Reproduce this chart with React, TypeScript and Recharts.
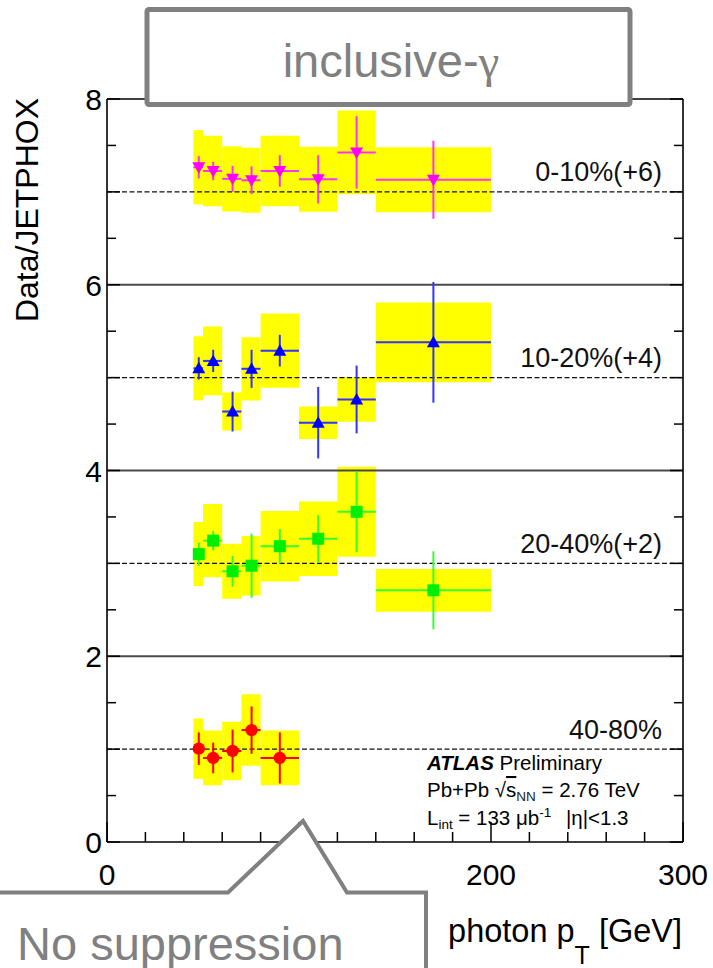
import React from 'react'
import {
  ScatterChart,
  Scatter,
  XAxis,
  YAxis,
  ErrorBar,
  ReferenceArea,
  ReferenceLine,
} from 'recharts'

const FONT = '"Liberation Sans", Arial, Helvetica, sans-serif'
const GREY = '#808080'

// axis ticks
const xTicks = [0, 20, 40, 60, 80, 100, 120, 140, 160, 180, 200, 220, 240, 260, 280, 300]
const yTicks = [0, 0.5, 1, 1.5, 2, 2.5, 3, 3.5, 4, 4.5, 5, 5.5, 6, 6.5, 7, 7.5, 8]
const xLabels = [0, 100, 200, 300]
const yLabels = [0, 2, 4, 6, 8]
const separators = [2, 4, 6]

// photon pT bins [GeV] and mean pT in each bin
const binLow = [45, 50, 60, 70, 80, 100, 120, 140]
const binHigh = [50, 60, 70, 80, 100, 120, 140, 200]
const meanPt = [47.8, 55.3, 65.4, 75.3, 90, 110, 130, 170]

// Data/JETPHOX per centrality class (before the vertical shift), stat and sys errors
const ratio010 = [1.265, 1.225, 1.14, 1.125, 1.225, 1.135, 1.425, 1.13]
const stat010 = [0.12, 0.1, 0.14, 0.15, 0.17, 0.26, 0.39, 0.42]
const sys010 = [0.4, 0.38, 0.35, 0.35, 0.38, 0.35, 0.45, 0.35]

const ratio1020 = [1.1, 1.18, 0.635, 1.095, 1.29, 0.515, 0.765, 1.38]
const stat1020 = [0.12, 0.12, 0.215, 0.205, 0.17, 0.385, 0.365, 0.65]
const sys1020 = [0.345, 0.37, 0.205, 0.34, 0.4, 0.175, 0.24, 0.43]

const ratio2040 = [1.1, 1.245, 0.915, 0.975, 1.185, 1.265, 1.555, 0.71]
const stat2040 = [0.125, 0.105, 0.165, 0.345, 0.185, 0.255, 0.435, 0.42]
const sys2040 = [0.345, 0.395, 0.295, 0.32, 0.38, 0.4, 0.485, 0.23]

const ratio4080 = [1.005, 0.905, 0.98, 1.205, 0.905]
const stat4080 = [0.175, 0.165, 0.23, 0.255, 0.275]
const sys4080 = [0.325, 0.295, 0.315, 0.385, 0.295]

type MarkerKind = 'down' | 'up' | 'square' | 'circle'

const classes = [
  { name: '0-10%(+6)', offset: 6, ratio: ratio010, stat: stat010, sys: sys010, color: '#ff00ff', bar: '#ff33ff', marker: 'down' as MarkerKind },
  { name: '10-20%(+4)', offset: 4, ratio: ratio1020, stat: stat1020, sys: sys1020, color: '#0000ff', bar: '#3333ff', marker: 'up' as MarkerKind },
  { name: '20-40%(+2)', offset: 2, ratio: ratio2040, stat: stat2040, sys: sys2040, color: '#00ee00', bar: '#33ff33', marker: 'square' as MarkerKind },
  { name: '40-80%', offset: 0, ratio: ratio4080, stat: stat4080, sys: sys4080, color: '#ff0000', bar: '#ff0000', marker: 'circle' as MarkerKind },
]

function Marker({ cx, cy, kind, color }: { cx: number; cy: number; kind: MarkerKind; color: string }) {
  if (kind === 'down')
    return <polygon points={`${cx - 6.5},${cy - 5} ${cx + 6.5},${cy - 5} ${cx},${cy + 6.5}`} fill={color} />
  if (kind === 'up')
    return <polygon points={`${cx - 6.5},${cy + 5} ${cx + 6.5},${cy + 5} ${cx},${cy - 6.5}`} fill={color} />
  if (kind === 'square') return <rect x={cx - 6} y={cy - 6} width={12} height={12} fill={color} />
  return <circle cx={cx} cy={cy} r={6.2} fill={color} />
}

// ROOT-style inward ticks: long on major divisions, short on minor ones
const BottomTick = ({ x, y, payload }: any) => {
  const v = payload.value
  const major = xLabels.includes(v)
  return (
    <g>
      <line x1={x} x2={x} y1={y} y2={y - (major ? 20 : 10)} stroke="#000" strokeWidth={1.5} />
      {major && (
        <text x={x} y={y + 43} textAnchor="middle" fontSize={30} fontFamily={FONT} fill="#000">
          {v}
        </text>
      )}
    </g>
  )
}

const TopTick = ({ x, y, payload }: any) => {
  const major = xLabels.includes(payload.value)
  return <line x1={x} x2={x} y1={y} y2={y + (major ? 20 : 11)} stroke="#000" strokeWidth={1.5} />
}

const LeftTick = ({ x, y, payload }: any) => {
  const v = payload.value
  const len = Number.isInteger(v) ? 13 : 9
  return (
    <g>
      <line x1={x} x2={x + len} y1={y} y2={y} stroke="#000" strokeWidth={1.5} />
      {yLabels.includes(v) && (
        <text x={x - 5} y={y + 11} textAnchor="end" fontSize={30} fontFamily={FONT} fill="#000">
          {v}
        </text>
      )}
    </g>
  )
}

const RightTick = ({ x, y, payload }: any) => {
  const len = Number.isInteger(payload.value) ? 13 : 9
  return <line x1={x} x2={x - len} y1={y} y2={y} stroke="#000" strokeWidth={1.5} />
}

const ClassLabel = ({ viewBox, text }: any) => (
  <text
    x={viewBox.x + viewBox.width - 21}
    y={viewBox.y - 10.5}
    textAnchor="end"
    fontSize={27}
    fontFamily={FONT}
    fill="#111"
  >
    {text}
  </text>
)

export default function App() {
  const series = classes.map((c) => ({
    ...c,
    points: c.ratio.map((r, i) => ({
      x: meanPt[i],
      y: r + c.offset,
      ex: [meanPt[i] - binLow[i], binHigh[i] - meanPt[i]],
      ey: c.stat[i],
    })),
  }))

  return (
    <div style={{ position: 'absolute', left: 0, top: 0, width: 713, height: 968, background: '#fff', fontFamily: FONT }}>
      <ScatterChart width={713} height={968} margin={{ top: 69, right: 0, bottom: 96, left: 77 }}>
        <XAxis
          dataKey="x"
          type="number"
          domain={[0, 300]}
          allowDataOverflow
          ticks={xTicks}
          interval={0}
          height={30}
          tickSize={0}
          tickMargin={0}
          tickLine={false}
          axisLine={{ stroke: '#000', strokeWidth: 1.6 }}
          tick={<BottomTick />}
        />
        <XAxis
          xAxisId="top"
          orientation="top"
          type="number"
          domain={[0, 300]}
          allowDataOverflow
          ticks={xTicks}
          interval={0}
          height={30}
          tickSize={0}
          tickMargin={0}
          tickLine={false}
          axisLine={{ stroke: '#000', strokeWidth: 1.6 }}
          tick={<TopTick />}
        />
        <YAxis
          dataKey="y"
          type="number"
          domain={[0, 8]}
          allowDataOverflow
          ticks={yTicks}
          interval={0}
          width={30}
          tickSize={0}
          tickMargin={0}
          tickLine={false}
          axisLine={{ stroke: '#000', strokeWidth: 1.6 }}
          tick={<LeftTick />}
        />
        <YAxis
          yAxisId="right"
          orientation="right"
          type="number"
          domain={[0, 8]}
          allowDataOverflow
          ticks={yTicks}
          interval={0}
          width={30}
          tickSize={0}
          tickMargin={0}
          tickLine={false}
          axisLine={{ stroke: '#000', strokeWidth: 1.6 }}
          tick={<RightTick />}
        />

        {/* systematic uncertainty boxes */}
        {series.map((s) =>
          s.points.map((p, i) => (
            <ReferenceArea
              key={`${s.name}-sys-${i}`}
              x1={binLow[i]}
              x2={binHigh[i]}
              y1={p.y - s.sys[i]}
              y2={p.y + s.sys[i]}
              fill="#ffff00"
              fillOpacity={1}
              stroke="none"
            />
          ))
        )}

        {separators.map((v) => (
          <ReferenceLine key={`sep-${v}`} y={v} stroke="#4a4a4a" strokeWidth={2} />
        ))}

        {series.map((s) => (
          <ReferenceLine
            key={`unity-${s.name}`}
            y={s.offset + 1}
            stroke="#111"
            strokeWidth={1.3}
            strokeDasharray="5 2.5"
            label={<ClassLabel text={s.name} />}
          />
        ))}

        {series.map((s) => (
          <Scatter
            key={s.name}
            name={s.name}
            data={s.points}
            isAnimationActive={false}
            shape={(p: any) => <Marker cx={p.cx} cy={p.cy} kind={s.marker} color={s.color} />}
          >
            <ErrorBar dataKey="ex" direction="x" width={0} stroke={s.bar} strokeWidth={2} />
            <ErrorBar dataKey="ey" direction="y" width={0} stroke={s.bar} strokeWidth={2} />
          </Scatter>
        ))}
      </ScatterChart>

      <svg width={713} height={968} style={{ position: 'absolute', left: 0, top: 0, pointerEvents: 'none' }}>
        <text transform="translate(38,98) rotate(-90)" textAnchor="end" fontSize={32} fontFamily={FONT} fill="#000">
          Data/JETPHOX
        </text>

        <text x={682} y={942} textAnchor="end" fontSize={32.5} fontFamily={FONT} fill="#000">
          photon p
          <tspan fontSize={25} dy={22}>T</tspan>
          <tspan dy={-22}> [GeV]</tspan>
        </text>

        <g fontFamily={FONT} fill="#000" fontSize={20.5}>
          <text x={427} y={770}>
            <tspan fontWeight="bold" fontStyle="italic">ATLAS</tspan> Preliminary
          </text>
          <text x={427} y={797}>
            Pb+Pb √<tspan style={{ textDecoration: 'overline' }}>s</tspan>
            <tspan fontSize={13.5} dy={4} fill="#222">NN</tspan>
            <tspan dy={-4}> = 2.76 TeV</tspan>
          </text>
          <text x={427} y={825}>
            L<tspan fontSize={13.5} dy={4}>int</tspan>
            <tspan dy={-4}> = 133 μb</tspan>
            <tspan fontSize={13.5} dy={-8}>-1</tspan>
          </text>
          <text x={566} y={825}>|η|&lt;1.3</text>
        </g>

        <rect x={147} y={9.5} width={483} height={95} fill="#fff" stroke={GREY} strokeWidth={5} rx={2} />
        <text x={391} y={77} textAnchor="middle" fontSize={47} fontFamily={FONT} fill={GREY}>
          inclusive-<tspan fontFamily='"Liberation Serif", "DejaVu Serif", serif'>γ</tspan>
        </text>

        <path
          d="M -10 892.5 L 228 892.5 L 303 821 L 347 892.5 L 426 892.5 L 426 985 L -10 985 Z"
          fill="#fff"
          stroke={GREY}
          strokeWidth={4}
          strokeLinejoin="miter"
        />
        <text x={17} y={960} fontSize={47} fontFamily={FONT} fill={GREY}>
          No suppression
        </text>
      </svg>
    </div>
  )
}
